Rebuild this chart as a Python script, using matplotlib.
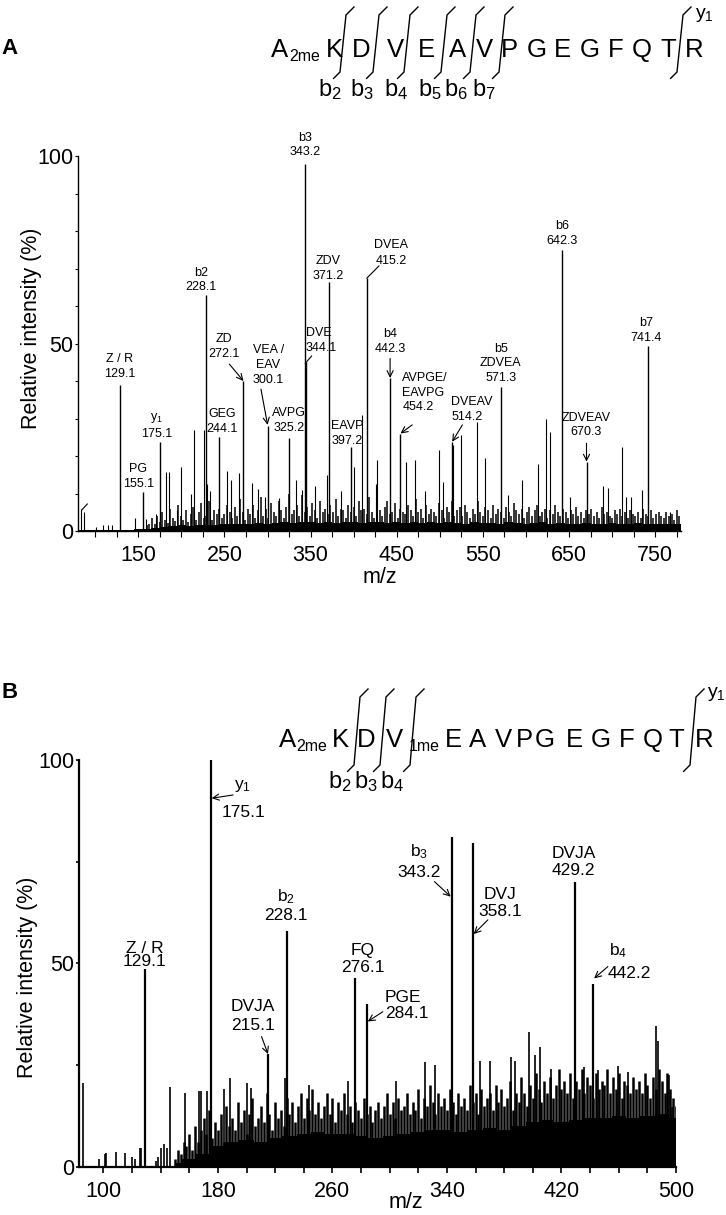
"""
MS/MS spectra of the methylated peptide A(2me)KDVEAVPGEGFQTR.

Panel A: A(2me)K D V E A V P G E G F Q T R
Panel B: A(2me)K D V(1me) E A V P G E G F Q T R
"""

import numpy as np
import matplotlib
matplotlib.use('Agg')
import matplotlib.pyplot as plt
from matplotlib.ticker import FixedLocator, MultipleLocator

plt.rcParams['font.family'] = ['Liberation Sans', 'DejaVu Sans']
plt.rcParams['mathtext.fontset'] = 'custom'
plt.rcParams['mathtext.rm'] = 'Liberation Sans'
plt.rcParams['mathtext.it'] = 'Liberation Sans:italic'
plt.rcParams['mathtext.bf'] = 'Liberation Sans:bold'

# ---------------------------------------------------------------- panel A data
a_ion_names = ['Z / R', 'PG', '$\\mathrm{y}_1$', 'b2', 'GEG', 'ZD', 'VEA /\nEAV',
               'AVPG', 'b3', 'DVE', 'ZDV', 'EAVP', 'DVEA', 'b4', 'AVPGE/\nEAVPG',
               'DVEAV', 'b5\nZDVEA', 'b6', 'ZDVEAV', 'b7']
a_ion_mz = [129.1, 155.1, 175.1, 228.1, 244.1, 272.1, 300.1, 325.2, 343.2, 344.1,
            371.2, 397.2, 415.2, 442.3, 454.2, 514.2, 571.3, 642.3, 670.3, 741.4]
a_ion_int = [39, 10.5, 23.8, 63, 25, 40, 28, 24.8, 98, 45,
             66.5, 22.5, 67.4, 40.8, 26, 23.8, 38.5, 75, 18.5, 49.3]

a_minor_mz = [84, 86.5, 101, 109, 115, 119, 146, 159, 170, 182.5, 186, 195, 200,
              211.5, 215.2, 225.7, 229.5, 233, 253, 258, 267, 282, 289, 297, 313,
              333.5, 339.5, 355, 369.5, 385.7, 400, 410, 425.6, 427, 461, 471,
              482.5, 499.6, 504, 515.5, 525, 543, 552, 579, 596, 614, 623, 628,
              651, 689, 695, 712, 716, 722, 735, 767]
a_minor_int = [6, 5, 1.2, 1.5, 1.5, 1.5, 3.5, 3.2, 4.6, 15.7, 15.7, 5.5, 17,
               10, 27, 27, 12.5, 10.8, 16, 13.5, 15.5, 12.8, 11.3, 9, 8.7,
               13.5, 11, 12, 15, 10.8, 17, 31, 12.6, 19, 18.3, 19,
               10.8, 21.6, 13, 23, 25.6, 29, 19.5, 9.5, 13.6, 18, 30, 26.5,
               9, 12, 11.5, 22.5, 9, 9, 11, 5]

# baseline grass, one value every 3 m/z from 160
a_grass_start, a_grass_step = 160, 3
a_grass_int = [
    1.5, 2.0, 3.5, 1.8, 4.0, 2.5, 5.0, 3.0, 2.2, 6.0,
    3.5, 2.8, 7.0, 4.0, 3.0, 5.5, 2.5, 4.5, 6.5, 3.0,
    5.0, 7.5, 3.5, 4.0, 8.0, 3.0, 5.5, 4.5, 6.0, 3.5,
    4.5, 7.0, 5.0, 3.5, 6.5, 4.0, 8.5, 5.0, 3.0, 6.0,
    4.5, 7.0, 3.5, 5.5, 9.0, 4.0, 6.0, 3.5, 7.5, 5.0,
    4.0, 8.0, 5.5, 3.5, 6.5, 10.0, 4.5, 5.5, 7.0, 4.0,
    9.5, 5.0, 6.5, 4.0, 7.5, 5.5, 3.5, 8.0, 5.0, 6.0,
    4.5, 7.0, 5.0, 8.5, 4.0, 6.0, 5.5, 3.5, 7.0, 5.0,
    6.5, 4.0, 8.0, 5.5, 6.0, 4.5, 9.0, 5.0, 3.5, 7.0,
    5.5, 4.0, 6.5, 8.0, 4.5, 5.0, 7.5, 3.5, 6.0, 5.0,
    4.5, 7.0, 5.5, 4.0, 8.5, 5.0, 6.0, 3.5, 7.0, 4.5,
    6.0, 5.0, 4.0, 7.5, 5.5, 3.5, 6.5, 5.0, 8.0, 4.0,
    5.5, 6.5, 4.0, 7.0, 5.0, 3.5, 6.0, 4.5, 8.0, 5.0,
    4.0, 6.5, 5.5, 3.5, 7.0, 4.5, 6.0, 5.0, 3.5, 6.5,
    5.0, 4.0, 7.5, 5.5, 4.5, 6.0, 3.5, 5.0, 6.5, 4.0,
    5.5, 7.0, 4.0, 5.0, 6.0, 3.5, 5.5, 4.5, 7.0, 5.0,
    4.0, 6.0, 5.0, 3.5, 5.5, 4.5, 6.5, 4.0, 5.0, 3.5,
    5.5, 4.5, 6.0, 4.0, 5.0, 3.5, 6.5, 4.5, 5.0, 4.0,
    3.5, 5.5, 4.5, 6.0, 4.0, 5.0, 3.5, 5.5, 4.5, 4.0,
    5.0, 3.5, 6.0, 4.5, 4.0, 5.5, 3.5, 4.5, 5.0, 4.0,
    3.5, 5.0, 4.0, 4.5, 3.0, 5.5, 4.0]

# solid noise floor, one value every 10 m/z from 80
a_floor_start, a_floor_step = 80, 10
a_floor_int = [
    0.3, 0.3, 0.3, 0.3, 0.3, 0.4, 0.4, 0.5,
    0.6, 0.9, 1.1, 1.3, 1.5, 1.4, 1.6, 1.5, 1.7, 1.8,
    1.8, 2.0, 1.8, 2.2, 2.0, 2.2, 2.3, 2.1, 2.5, 2.3,
    2.1, 2.3, 2.1, 2.5, 2.3, 2.1, 2.5, 2.3, 2.1, 2.4,
    2.1, 2.3, 2.1, 2.4, 2.1, 2.3, 2.1, 2.0, 2.3, 2.1,
    2.1, 2.0, 2.3, 2.1, 2.0, 2.1, 2.3, 2.0, 2.1, 2.0,
    2.0, 2.1, 1.9, 2.0, 2.1, 1.8, 2.0, 2.1, 1.8, 2.0,
    1.9, 2.0, 1.8]

a_edge_mz = [84.3, 90.8]
a_edge_int = [5.6, 7.2]

# ---------------------------------------------------------------- panel B data
b_ion_names = ['Z / R', '$\\mathrm{y}_1$', 'DVJA', '$\\mathrm{b}_2$', 'FQ', 'PGE',
               '$\\mathrm{b}_3$', 'DVJ', 'DVJA', '$\\mathrm{b}_4$']
b_ion_mz = [129.1, 175.1, 215.1, 228.1, 276.1, 284.1, 343.2, 358.1, 429.2, 442.2]
b_ion_int = [48.5, 100, 27.7, 58, 46.5, 40, 81, 79.6, 70, 45]

b_minor_mz = [85.5, 97, 101, 102, 109, 115, 120, 122, 125.5, 126.5, 137, 138, 140,
              142.6, 144.6, 146.5, 157, 167, 168, 172.5, 184.5, 188.7, 200, 203,
              227, 244, 271, 304.5, 324.5, 332, 363, 370, 385, 387.5, 397, 401.3,
              405, 413, 436, 445.5, 459.5, 466.5, 486, 487.5, 495.2, 497.5]
b_minor_int = [20.5, 2, 3, 3.3, 3.7, 3.3, 2.5, 2, 4.5, 4.5, 1.3, 2.3, 4.5,
               5.7, 4.5, 19.7, 18, 18.5, 18.5, 18.7, 19, 21.7, 20.6, 19.3,
               21.7, 20, 21, 21, 25.8, 25, 26, 26, 27, 26, 33, 27.5,
               29.5, 24, 24.6, 23.7, 24.8, 23.4, 34.5, 31, 22.6, 14.7]

# baseline grass, one value every 2 m/z from 150
b_grass_start, b_grass_step = 150, 2
b_grass_int = [
    2, 4, 3, 6, 5, 8, 4, 10, 6, 9,
    12, 8, 14, 7, 11, 9, 13, 6, 15, 10,
    12, 9, 16, 11, 14, 8, 13, 17, 10, 12,
    15, 11, 18, 13, 9, 16, 12, 14, 10, 17,
    13, 16, 11, 15, 18, 12, 17, 14, 19, 13,
    16, 12, 15, 18, 13, 17, 11, 16, 14, 18,
    13, 15, 11, 16, 14, 12, 17, 13, 15, 11,
    14, 16, 12, 15, 18, 13, 16, 12, 17, 14,
    15, 18, 13, 16, 14, 19, 12, 17, 15, 20,
    16, 13, 18, 15, 17, 14, 19, 16, 13, 18,
    15, 17, 14, 20, 16, 18, 13, 19, 15, 17,
    18, 14, 20, 16, 19, 15, 17, 21, 14, 18,
    16, 22, 18, 15, 20, 17, 23, 19, 16, 21,
    18, 22, 17, 20, 24, 19, 21, 18, 23, 17,
    21, 19, 24, 18, 22, 20, 17, 23, 19, 21,
    20, 24, 18, 22, 19, 23, 17, 21, 20, 18,
    22, 19, 21, 18, 23, 20, 17, 22, 19, 24,
    21, 18, 23, 19, 17, 15]

# solid noise floor, one value every 10 m/z from 150
b_floor_start, b_floor_step = 150, 10
b_floor_int = [1, 2, 3, 5, 6, 6.5, 6, 7, 7.5, 8, 8.5, 8, 8, 7.5, 7, 7.5, 8, 8.5,
               9, 9, 8.5, 9, 9.5, 9, 10, 11, 11.5, 11, 11.5, 12, 12, 12.5, 12,
               12.5, 13, 12]

# ---------------------------------------------------------------- label layout
# text anchor (m/z, % at bottom of text block), alignment and line spacing
a_label_layout = [
    dict(xy=(128.8, 40.3)), dict(xy=(150.0, 10.9)), dict(xy=(171.3, 24.4)),
    dict(xy=(222.8, 63.4)), dict(xy=(246.8, 25.6)), dict(xy=(249.5, 45.6)),
    dict(xy=(300.9, 38.7)), dict(xy=(325.3, 25.9)), dict(xy=(343.5, 99.4)),
    dict(xy=(344.7, 47.2), ha='left'), dict(xy=(370.6, 66.5)),
    dict(xy=(393.0, 22.5)), dict(xy=(443.7, 70.5), ls=1.4),
    dict(xy=(442.6, 46.9)), dict(xy=(456.5, 31.4), ha='left'),
    dict(xy=(513.4, 28.9), ha='left'), dict(xy=(570.7, 39.2)),
    dict(xy=(642.0, 75.8)), dict(xy=(670.0, 24.7)), dict(xy=(739.7, 49.9)),
]
a_arrows = [
    ((255.7, 44.5), (272.1, 40.0), '->'),
    ((292.4, 37.8), (300.1, 28.3), '->'),
    ((442.3, 46.0), (442.3, 40.8), '->'),
    ((468.0, 28.3), (454.4, 26.0), '->'),
    ((526.2, 28.3), (514.4, 23.8), '->'),
    ((670.3, 23.4), (670.3, 18.5), '->'),
    ((351.3, 46.7), (343.8, 44.7), '-'),
    ((429.4, 70.7), (415.2, 67.4), '-'),
]

b_label_layout = [
    dict(xy=(129.1, 48.5), ls=0.9),
    dict(name_xy=(191.5, 93.6), value_xy=(182.9, 87.0), ha='left'),
    dict(xy=(204.5, 32.8), ls=1.35),
    dict(xy=(227.5, 60.0), ls=1.1),
    dict(xy=(281.0, 47.1), ls=1.15),
    dict(xy=(296.6, 35.9), ha='left', ls=1.05),
    dict(xy=(320.4, 70.5), ls=1.3),
    dict(xy=(377.4, 60.9), ls=1.15),
    dict(xy=(428.4, 70.9), ls=1.2),
    dict(name_xy=(459.4, 53.1), value_xy=(452.4, 47.6), ha='left', name_ha='center'),
]
b_arrows = [
    ((190.6, 91.4), (175.7, 90.6), '->'),
    ((210.5, 32.0), (215.0, 27.7), '->'),
    ((295.2, 38.1), (284.7, 35.7), '->'),
    ((331.3, 70.1), (342.6, 66.4), '->'),
    ((368.6, 60.7), (358.7, 57.2), '->'),
    ((452.4, 49.2), (442.8, 46.3), '->'),
]

# ---------------------------------------------------------------- sequences
seq_a_letters = ['D', 'V', 'E', 'A', 'V', 'P', 'G', 'E', 'G', 'F', 'Q', 'T', 'R']
seq_a_b_ions = ['2', '3', '4', '5', '6', '7']
seq_b_letters = ['D', 'V', 'E', 'A', 'V', 'P', 'G', 'E', 'G', 'F', 'Q', 'T', 'R']
seq_b_b_ions = ['2', '3', '4']

# pixel layout of the sequence drawings
seq_a_layout = dict(prefix_x=(280, 289, 334), letter_x=[361, 395, 426, 458, 484, 509, 537,
                                                      562, 590, 616, 642, 668, 694],
                    baseline=57, b_x=[330, 362, 396, 430, 456, 484], b_base=96,
                    brackets=[343, 376, 407, 444, 473, 502], y_bracket=680,
                    bracket_y=(15, 72), y1_xy=(695, 18), sub_letter=None)
seq_b_layout = dict(prefix_x=(288, 296, 340), letter_x=[366, 394, 453, 478, 503, 524, 545,
                                                      574, 601, 627, 653, 676, 704],
                    baseline=747, b_x=[340, 366, 392], b_base=788,
                    brackets=[357, 383, 413], y_bracket=693,
                    bracket_y=(697, 765), y1_xy=(707, 697), sub_letter=(1, '1me', 409))


def draw_spectrum(ax, ion_mz, ion_int, minor_mz, minor_int, grass, floor,
                  lw_main, lw_grass, lw_minor):
    """Stick spectrum: noise floor, grass, medium peaks and assigned ions."""
    g_start, g_step, g_int = grass
    g_mz = g_start + g_step * np.arange(len(g_int))
    f_start, f_step, f_int = floor
    f_mz = f_start + f_step * np.arange(len(f_int))

    ax.fill_between(f_mz, 0, f_int, step='mid', color='black', lw=0, zorder=1)
    ax.vlines(g_mz, 0, g_int, colors='black', lw=lw_grass, zorder=2)
    ax.vlines(minor_mz, 0, minor_int, colors='black', lw=lw_minor, zorder=2)
    ax.vlines(ion_mz, 0, ion_int, colors='black', lw=lw_main, zorder=3)


def draw_labels(ax, names, mzs, layout, arrows, fontsize, default_ls):
    for name, mz, lay in zip(names, mzs, layout):
        value = f'{mz:.1f}'
        if 'name_xy' in lay:
            ax.text(*lay['name_xy'], name, ha=lay.get('name_ha', lay['ha']),
                    va='center', fontsize=fontsize, clip_on=False)
            ax.text(*lay['value_xy'], value, ha=lay['ha'], va='center',
                    fontsize=fontsize, clip_on=False)
        else:
            ha = lay.get('ha', 'center')
            ax.text(*lay['xy'], f'{name}\n{value}', ha=ha, va='bottom',
                    fontsize=fontsize, clip_on=False,
                    linespacing=lay.get('ls', default_ls), multialignment=ha)

    for tail, head, style in arrows:
        ax.annotate('', xy=head, xytext=tail, annotation_clip=False,
                    arrowprops=dict(arrowstyle=style, lw=0.8, color='black',
                                    shrinkA=0, shrinkB=0, mutation_scale=11))


def style_axes(ax, xlim, xmajor, xminor, yminor, spine_lw, tick_lw):
    ax.set_xlim(*xlim)
    ax.set_ylim(0, 100)
    for side in ['top', 'right']:
        ax.spines[side].set_visible(False)
    for side in ['left', 'bottom']:
        ax.spines[side].set_linewidth(spine_lw)
    ax.xaxis.set_major_locator(FixedLocator(xmajor))
    ax.xaxis.set_minor_locator(MultipleLocator(xminor))
    ax.yaxis.set_major_locator(FixedLocator([0, 50, 100]))
    ax.yaxis.set_minor_locator(MultipleLocator(yminor))
    ax.tick_params(which='both', direction='out', width=tick_lw, labelsize=15.5)
    ax.tick_params(axis='x', which='both', length=4, pad=6)
    ax.tick_params(axis='y', which='both', length=2.5, pad=1)
    ax.set_xlabel('m/z', fontsize=15.5)
    ax.set_ylabel('Relative intensity (%)', fontsize=15.5)


def draw_bracket(ov, x0, y_top, y_bot, slant=6, tip=8):
    xs = [x0 + slant / 2 + tip, x0 + slant / 2, x0 - slant / 2, x0 - slant / 2 - tip * 0.8]
    ys = [y_top - tip, y_top, y_bot, y_bot + tip * 0.8]
    ov.plot(xs, ys, color='black', lw=1.0, solid_joinstyle='miter')


def draw_sequence(ov, letters, b_ions, lay, fs=18.5, sub_fs=11.5):
    base = lay['baseline']
    a_x, sub_x, k_x = lay['prefix_x']
    ov.text(a_x, base, 'A', ha='center', va='baseline', fontsize=fs)
    ov.text(sub_x, base + 4, '2me', ha='left', va='baseline', fontsize=sub_fs)
    ov.text(k_x, base, 'K', ha='center', va='baseline', fontsize=fs)
    for letter, x in zip(letters, lay['letter_x']):
        ov.text(x, base, letter, ha='center', va='baseline', fontsize=fs)
    if lay['sub_letter'] is not None:
        _, sub_text, sx = lay['sub_letter']
        ov.text(sx, base + 4, sub_text, ha='left', va='baseline', fontsize=sub_fs)

    y_top, y_bot = lay['bracket_y']
    for x in lay['brackets'] + [lay['y_bracket']]:
        draw_bracket(ov, x, y_top, y_bot)
    for ion, x in zip(b_ions, lay['b_x']):
        ov.text(x, lay['b_base'], f'$\\mathrm{{b}}_{{{ion}}}$', ha='center',
                va='baseline', fontsize=17)
    ov.text(*lay['y1_xy'], '$\\mathrm{y}_1$', ha='left', va='baseline', fontsize=14)


W, H = 726, 1215
fig = plt.figure(figsize=(W / 100, H / 100), dpi=100)

# ---- panel A
ax_a = fig.add_axes([78 / W, 1 - 531 / H, 603 / W, 375 / H])
draw_spectrum(ax_a, a_ion_mz, a_ion_int, a_minor_mz, a_minor_int,
              (a_grass_start, a_grass_step, a_grass_int),
              (a_floor_start, a_floor_step, a_floor_int),
              lw_main=1.0, lw_grass=1.1, lw_minor=0.8)
ax_a.plot(a_edge_mz, a_edge_int, color='black', lw=0.8, clip_on=False)
draw_labels(ax_a, a_ion_names, a_ion_mz, a_label_layout, a_arrows, 9, 1.3)
style_axes(ax_a, (80, 780), range(150, 751, 100), 25, 10, 1.0, 0.8)
ax_a.xaxis.set_label_coords(0.5, -0.096)
ax_a.yaxis.set_label_coords(-0.06, 0.54)

# ---- panel B
ax_b = fig.add_axes([79 / W, 1 - 1166.7 / H, 597 / W, 406.7 / H])
draw_spectrum(ax_b, b_ion_mz, b_ion_int, b_minor_mz, b_minor_int,
              (b_grass_start, b_grass_step, b_grass_int),
              (b_floor_start, b_floor_step, b_floor_int),
              lw_main=1.6, lw_grass=1.8, lw_minor=1.2)
draw_labels(ax_b, b_ion_names, b_ion_mz, b_label_layout, b_arrows, 12.5, 1.2)
style_axes(ax_b, (83, 500), range(100, 501, 80), 20, 25, 1.6, 1.2)
ax_b.xaxis.set_label_coords(0.548, -0.062)
ax_b.yaxis.set_label_coords(-0.069, 0.466)

# ---- sequence drawings and panel letters (pixel coordinates)
ov = fig.add_axes([0, 0, 1, 1], zorder=10)
ov.set_xlim(0, W)
ov.set_ylim(H, 0)
ov.axis('off')
draw_sequence(ov, seq_a_letters, seq_a_b_ions, seq_a_layout)
draw_sequence(ov, seq_b_letters, seq_b_b_ions, seq_b_layout)
ov.text(10, 48, 'A', ha='center', va='center', fontsize=16, fontweight='bold')
ov.text(10, 693, 'B', ha='center', va='center', fontsize=16, fontweight='bold')

fig.savefig('out.png', dpi=100)
